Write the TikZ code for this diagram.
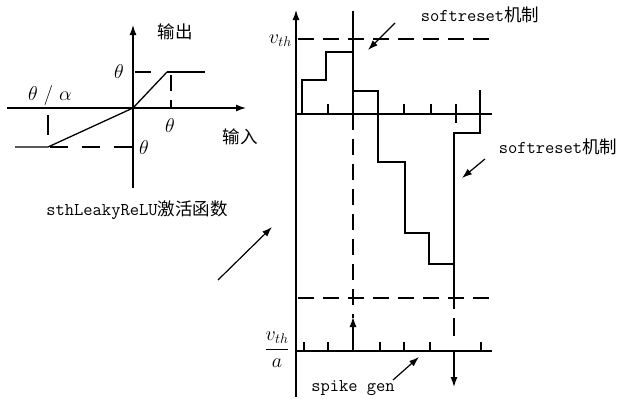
\documentclass[tikz,border=0pt]{standalone}
\usepackage{fix-cm}
\usepackage{fontspec}
\newfontfamily\cjk{Noto Sans CJK SC}
\usetikzlibrary{arrows.meta,positioning}
\newcommand{\zh}[1]{{\cjk\fontsize{17.5}{20}\selectfont #1}}

\begin{document}
\begin{tikzpicture}[x=1pt,y=-1pt,
    ln/.style={line width=1.3pt},
    arr/.style={line width=1.3pt,-{Latex[length=10pt,width=7pt]}},
    note/.style={line width=1.2pt,-{Latex[length=10pt,width=7pt]}},
    dsh/.style={line width=1.3pt,dash pattern=on 16pt off 9pt},
    txt/.style={font=\fontsize{18}{20}\selectfont\ttfamily,inner sep=0pt},
    mth/.style={font=\fontsize{20}{22}\selectfont,inner sep=0pt}]
  \useasboundingbox (0,0) rectangle (622,399);

  % left: activation function
  \draw[arr] (7,108) -- (246,108);
  \draw[arr] (133,188) -- (133,25);
  \draw[dsh] (135,72) -- (155,72);
  \draw[ln] (167,72) -- (205,72);
  \draw[dsh] (171,75) -- (171,108);
  \draw[ln] (15,147) -- (48,147) -- (133,108) -- (167,72);
  \draw[ln,dash pattern=on 18pt off 14pt] (50,147) -- (133,147);
  \draw[ln] (48,115) -- (48,135);
  \node[mth] (thl) at (119,72) {$\theta$};
  \node[mth] (thr) at (170,126) {$\theta$};
  \node[mth] (thb) at (144,148) {$\theta$};
  \node[mth] (tha) at (50,95) {$\theta\ /\ \alpha$};
  \node (out) at (175,32) {\zh{输出}};
  \node (in) at (240,137) {\zh{输入}};
  \node[txt] (fn) at (137,210) {sthLeakyReLU\zh{激活函数}};

  \coordinate (p1) at (218,280);
  \coordinate (p2) at (272,227);
  \draw[note] (p1) -- (p2);

  % right: membrane potential
  \draw[arr] (296,397) -- (296,10);
  \draw[dsh] (298,39) -- (490,39);
  \draw[ln] (296,114) -- (492,114);
  \foreach \x in {328,404,431} \draw[ln] (\x,114) -- (\x,104);
  \draw[ln] (456,104) -- (456,123);
  \draw[ln] (353,11) -- (353,114);
  \draw[dsh] (353,114) -- (353,318);
  \draw[ln] (302,114) -- (302,80) -- (326,80) -- (326,52) -- (353,52);
  \draw[ln] (353,91) -- (378,91) -- (378,162) -- (405,162) -- (405,233)
            -- (429,233) -- (429,264) -- (454,264);
  \draw[ln] (480,90) -- (480,133) -- (454,133) -- (454,309);
  \draw[ln] (454,318) -- (454,336);
  \draw[dsh] (298,298) -- (490,298);
  \draw[ln] (296,351) -- (492,351);
  \foreach \x in {304,328,380,404,430,481} \draw[ln] (\x,351) -- (\x,342);
  \draw[arr] (353,351) -- (353,317);
  \draw[arr] (454,351) -- (454,387);

  \node[mth,anchor=east] (vth) at (292,41) {$v_{th}$};
  \node[mth] (vtha) at (277,350) {$\displaystyle\frac{v_{th}}{a}$};

  \node[txt] (sr1) at (480,15) {softreset\zh{机制}};
  \node[txt] (sr2) at (558,147) {softreset\zh{机制}};
  \node[txt] (sg) at (353,388) {spike gen};
  \coordinate (sr1a) at (395,23);
  \coordinate (sr1b) at (368,50);
  \coordinate (sr2a) at (485,159);
  \coordinate (sr2b) at (462,178);
  \coordinate (sga) at (393,380);
  \coordinate (sgb) at (419,357);
  \draw[note] (sr1a) -- (sr1b);
  \draw[note] (sr2a) -- (sr2b);
  \draw[note] (sga) -- (sgb);
\end{tikzpicture}
\end{document}
